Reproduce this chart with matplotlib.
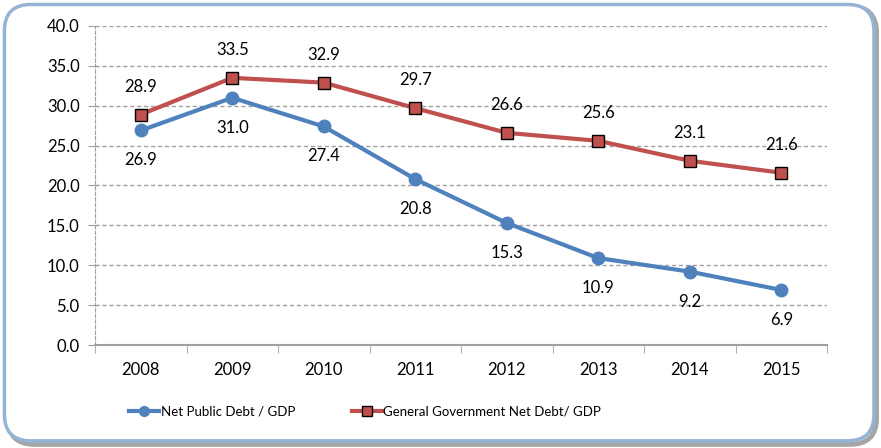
import matplotlib
matplotlib.use("Agg")
import matplotlib.pyplot as plt
from matplotlib.patches import FancyBboxPatch
from matplotlib.lines import Line2D

years = ["2008", "2009", "2010", "2011", "2012", "2013", "2014", "2015"]
net_public = [26.9, 31.0, 27.4, 20.8, 15.3, 10.9, 9.2, 6.9]
gen_gov = [28.9, 33.5, 32.9, 29.7, 26.6, 25.6, 23.1, 21.6]
yticks = [0, 5, 10, 15, 20, 25, 30, 35, 40]

blue = "#4F81BD"
red = "#C0504D"
plt.rcParams['font.family'] = ['Lato', 'DejaVu Sans']

fig = plt.figure(figsize=(8.81, 4.48), dpi=100)
# border with shadow
shadow = FancyBboxPatch((0.009, 0.008), 0.986, 0.978, boxstyle="round,pad=0,rounding_size=0.03",
                        transform=fig.transFigure, facecolor="none", edgecolor="#A6A6A6",
                        linewidth=3.5, zorder=-2, mutation_aspect=881/448)
fig.patches.append(shadow)
border = FancyBboxPatch((0.005, 0.016), 0.987, 0.974, boxstyle="round,pad=0,rounding_size=0.03",
                        transform=fig.transFigure, facecolor="white", edgecolor="#95B3D7",
                        linewidth=2.5, zorder=-1, mutation_aspect=881/448)
fig.patches.append(border)

ax = fig.add_axes([95/881, 1-345/448, (827-95)/881, (345-26)/448])
ax.set_facecolor("none")
x = list(range(len(years)))
ax.plot(x, net_public, color=blue, lw=3, marker='o', ms=9, mfc=blue, mec=blue, zorder=3)
ax.plot(x, gen_gov, color=red, lw=3, marker='s', ms=9, mfc=red, mec="black", mew=1, zorder=4)

for xi, v in zip(x, net_public):
    ax.annotate(f"{v:.1f}", (xi, v), xytext=(0, -30), textcoords='offset pixels',
                ha='center', va='center', fontsize=12)
for xi, v in zip(x, gen_gov):
    ax.annotate(f"{v:.1f}", (xi, v), xytext=(0, 28), textcoords='offset pixels',
                ha='center', va='center', fontsize=12)

ax.set_xlim(-0.5, len(years) - 0.5)
ax.set_ylim(0, 40)
ax.set_yticks(yticks)
ax.set_yticklabels([f"{t:.1f}" for t in yticks], fontsize=12)
ax.set_xticks(x)
ax.set_xticklabels(years, fontsize=12)
ax.set_xticks([i - 0.5 for i in range(len(years) + 1)], minor=True)
ax.tick_params(axis='x', which='major', length=0, pad=12)
ax.tick_params(axis='x', which='minor', length=6, color="#A0A0A0", direction='out')
ax.tick_params(axis='y', length=5, color="#A0A0A0", pad=6)
ax.grid(axis='y', color="#A0A0A0", linestyle=(0, (3, 2)), lw=1)
for s in ['top', 'right']:
    ax.spines[s].set_visible(False)
ax.spines['left'].set_color("#A0A0A0")
ax.spines['left'].set_linestyle((0, (3, 2)))
ax.spines['bottom'].set_color("#A0A0A0")
ax.spines['bottom'].set_linewidth(1.5)
ax.set_axisbelow(True)

handles = [Line2D([], [], color=blue, lw=3, marker='o', ms=7, mec=blue),
           Line2D([], [], color=red, lw=3, marker='s', ms=7, mfc=red, mec='black')]
fig.legend(handles, ["Net Public Debt / GDP", "General Government Net Debt/ GDP"],
           loc='center', bbox_to_anchor=(365/881, 1-412/448), ncol=2, frameon=False,
           fontsize=9.5, handlelength=2.3, handletextpad=0.1, columnspacing=4.3)

fig.savefig("out.png", dpi=100)
